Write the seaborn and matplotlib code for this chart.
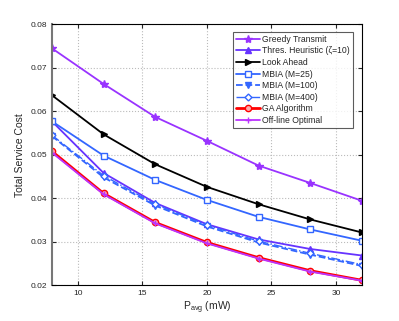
import matplotlib
matplotlib.use("Agg")
import matplotlib.pyplot as plt
import pandas as pd
import seaborn as sns

p_avg = [8, 12, 16, 20, 24, 28, 32]
greedy = [0.0745, 0.0663, 0.0587, 0.0532, 0.0475, 0.0435, 0.0394]
thres = [0.0577, 0.0458, 0.0389, 0.0340, 0.0305, 0.0283, 0.0268]
look_ahead = [0.0637, 0.0547, 0.0478, 0.0426, 0.0386, 0.0351, 0.0321]
mbia_25 = [0.0577, 0.0498, 0.0442, 0.0396, 0.0357, 0.0328, 0.0302]
mbia_100 = [0.0543, 0.0448, 0.0383, 0.0335, 0.0298, 0.0270, 0.0244]
mbia_400 = [0.0545, 0.0452, 0.0386, 0.0338, 0.0301, 0.0273, 0.0247]
ga = [0.0508, 0.0411, 0.0344, 0.0298, 0.0263, 0.0233, 0.0211]
offline = [0.0505, 0.0409, 0.0342, 0.0296, 0.0261, 0.0231, 0.0210]

labels = ["Greedy Transmit", "Thres. Heuristic (\u03b6=10)", "Look Ahead",
          "MBIA (M=25)", "MBIA (M=100)", "MBIA (M=400)",
          "GA Algorithm", "Off-line Optimal"]
series = [greedy, thres, look_ahead, mbia_25, mbia_100, mbia_400, ga, offline]

# color, marker, linestyle, marker face, linewidth, marker size
styles = [
    ("#9933ff", "*", "-", "#9933ff", 1.3, 6),
    ("#6633ff", "^", "-", "#6633ff", 1.3, 4.5),
    ("black", ">", "-", "black", 1.3, 4.5),
    ("#3366ff", "s", "-", "white", 1.3, 4),
    ("#3366ff", "v", "--", "#3366ff", 1.3, 4.5),
    ("#3366ff", "D", "-.", "white", 1.0, 3.5),
    ("red", "o", "-", "#ffaaaa", 2.0, 4.5),
    ("#bb33ff", "+", "-", "#bb33ff", 1.3, 4.5),
]

df = pd.DataFrame({"p": p_avg * len(series),
                   "cost": [v for s in series for v in s],
                   "alg": [l for l in labels for _ in p_avg]})

sns.set_style("white")
plt.rcParams["font.family"] = ["Liberation Sans", "DejaVu Sans"]

fig = plt.figure(figsize=(3.99, 3.21), dpi=100)
ax = fig.add_axes([0.130, 0.112, 0.777, 0.812])

for lab, (c, m, ls, mfc, lw, ms) in zip(labels, styles):
    sub = df[df["alg"] == lab]
    sns.lineplot(data=sub, x="p", y="cost", ax=ax, color=c, marker=m,
                 linestyle=ls, linewidth=lw, markersize=ms,
                 markerfacecolor=mfc, markeredgecolor=c, markeredgewidth=1.0,
                 label=lab)

ax.set_xlim(8, 32)
ax.set_ylim(0.02, 0.08)
ax.set_xticks([10, 15, 20, 25, 30])
ax.set_yticks([0.02, 0.03, 0.04, 0.05, 0.06, 0.07, 0.08])
ax.set_yticklabels(["0.02", "0.03", "0.04", "0.05", "0.06", "0.07", "0.08"])
ax.grid(True, linestyle=":", color="#bbbbbb", linewidth=0.8)
ax.tick_params(labelsize=6, direction="in", length=3, left=True, bottom=True,
               right=True, top=True)
for sp in ax.spines.values():
    sp.set_color("black")
    sp.set_linewidth(0.8)
ax.spines["left"].set_color("#777777")
ax.spines["left"].set_linewidth(1.5)

ax.set_xlabel("P$_{\\mathregular{avg}}$ (mW)", fontsize=7.5, labelpad=2)
ax.set_ylabel("Total Service Cost", fontsize=7.5, labelpad=4)

leg = ax.legend(loc="upper right", fontsize=6.2, frameon=True, fancybox=False,
                edgecolor="#333333", handlelength=2.8, borderpad=0.35,
                labelspacing=0.3, handletextpad=0.3,
                bbox_to_anchor=(0.986, 0.988))
leg.get_frame().set_linewidth(0.8)

fig.savefig("out.png", dpi=100)
